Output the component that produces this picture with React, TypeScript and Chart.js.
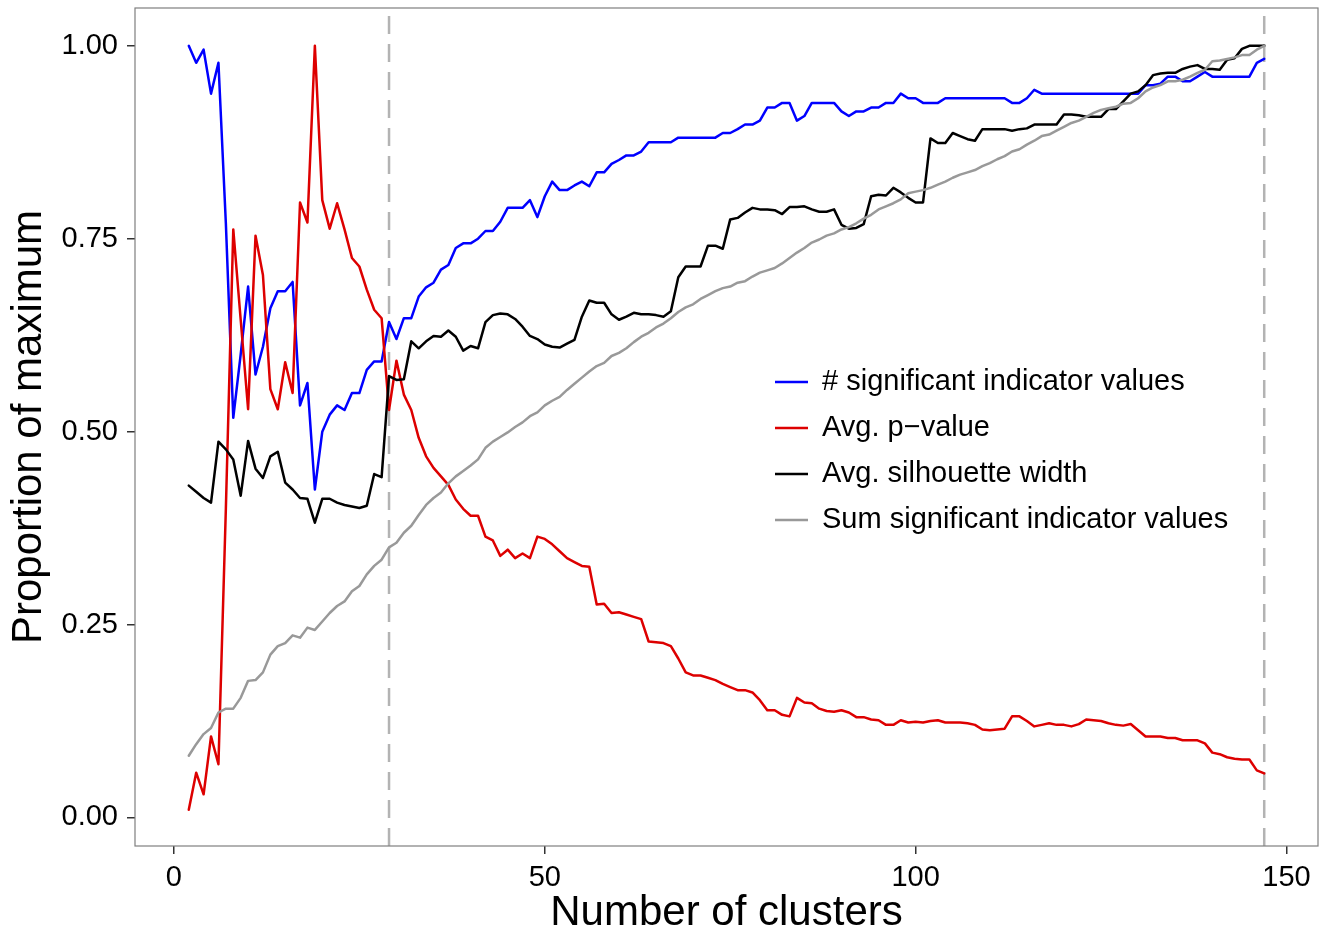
import React, { useEffect, useRef } from 'react';
import { Chart, registerables } from 'chart.js';

Chart.register(...registerables);

const FONT = '"Liberation Sans", Arial, Helvetica, sans-serif';

const clusters = [
  2, 3, 4, 5, 6, 7, 8, 9, 10, 11,
  12, 13, 14, 15, 16, 17, 18, 19, 20, 21,
  22, 23, 24, 25, 26, 27, 28, 29, 30, 31,
  32, 33, 34, 35, 36, 37, 38, 39, 40, 41,
  42, 43, 44, 45, 46, 47, 48, 49, 50, 51,
  52, 53, 54, 55, 56, 57, 58, 59, 60, 61,
  62, 63, 64, 65, 66, 67, 68, 69, 70, 71,
  72, 73, 74, 75, 76, 77, 78, 79, 80, 81,
  82, 83, 84, 85, 86, 87, 88, 89, 90, 91,
  92, 93, 94, 95, 96, 97, 98, 99, 100, 101,
  102, 103, 104, 105, 106, 107, 108, 109, 110, 111,
  112, 113, 114, 115, 116, 117, 118, 119, 120, 121,
  122, 123, 124, 125, 126, 127, 128, 129, 130, 131,
  132, 133, 134, 135, 136, 137, 138, 139, 140, 141,
  142, 143, 144, 145, 146, 147,
];

const sigIndicatorCount = [
  1.000, 0.978, 0.995, 0.938, 0.978, 0.770, 0.518, 0.600, 0.688, 0.574,
  0.610, 0.660, 0.682, 0.682, 0.694, 0.534, 0.563, 0.425, 0.500, 0.522,
  0.534, 0.528, 0.550, 0.550, 0.580, 0.591, 0.591, 0.642, 0.620, 0.647,
  0.647, 0.675, 0.687, 0.693, 0.710, 0.716, 0.738, 0.744, 0.744, 0.750,
  0.760, 0.760, 0.772, 0.790, 0.790, 0.790, 0.800, 0.778, 0.805, 0.824,
  0.813, 0.813, 0.819, 0.824, 0.818, 0.836, 0.836, 0.847, 0.852, 0.858,
  0.858, 0.863, 0.875, 0.875, 0.875, 0.875, 0.881, 0.881, 0.881, 0.881,
  0.881, 0.881, 0.887, 0.887, 0.892, 0.898, 0.898, 0.903, 0.920, 0.920,
  0.926, 0.926, 0.903, 0.909, 0.926, 0.926, 0.926, 0.926, 0.915, 0.909,
  0.915, 0.915, 0.920, 0.920, 0.926, 0.926, 0.938, 0.932, 0.932, 0.926,
  0.926, 0.926, 0.932, 0.932, 0.932, 0.932, 0.932, 0.932, 0.932, 0.932,
  0.932, 0.926, 0.926, 0.932, 0.943, 0.938, 0.938, 0.938, 0.938, 0.938,
  0.938, 0.938, 0.938, 0.938, 0.938, 0.938, 0.938, 0.938, 0.938, 0.949,
  0.949, 0.951, 0.960, 0.960, 0.954, 0.954, 0.960, 0.966, 0.960, 0.960,
  0.960, 0.960, 0.960, 0.960, 0.978, 0.983,
];

const avgPValue = [
  0.010, 0.058, 0.030, 0.105, 0.069, 0.400, 0.762, 0.645, 0.529, 0.754,
  0.703, 0.555, 0.529, 0.590, 0.550, 0.797, 0.771, 1.000, 0.800, 0.763,
  0.796, 0.762, 0.725, 0.714, 0.684, 0.658, 0.647, 0.528, 0.592, 0.548,
  0.528, 0.492, 0.468, 0.453, 0.442, 0.431, 0.412, 0.400, 0.391, 0.391,
  0.364, 0.359, 0.339, 0.347, 0.336, 0.342, 0.336, 0.364, 0.361, 0.354,
  0.345, 0.336, 0.331, 0.326, 0.325, 0.276, 0.277, 0.265, 0.266, 0.263,
  0.260, 0.257, 0.228, 0.227, 0.226, 0.222, 0.206, 0.188, 0.184, 0.184,
  0.181, 0.178, 0.173, 0.169, 0.165, 0.165, 0.162, 0.152, 0.139, 0.139,
  0.133, 0.131, 0.155, 0.149, 0.148, 0.141, 0.138, 0.137, 0.139, 0.136,
  0.130, 0.130, 0.127, 0.126, 0.120, 0.120, 0.126, 0.123, 0.124, 0.123,
  0.125, 0.126, 0.123, 0.123, 0.123, 0.122, 0.120, 0.114, 0.113, 0.114,
  0.115, 0.131, 0.131, 0.125, 0.118, 0.120, 0.122, 0.120, 0.120, 0.118,
  0.121, 0.127, 0.126, 0.125, 0.122, 0.120, 0.119, 0.121, 0.113, 0.105,
  0.105, 0.105, 0.103, 0.103, 0.100, 0.100, 0.100, 0.096, 0.084, 0.082,
  0.078, 0.076, 0.075, 0.075, 0.061, 0.057,
];

const avgSilhouette = [
  0.430, 0.422, 0.414, 0.408, 0.487, 0.477, 0.464, 0.417, 0.488, 0.452,
  0.440, 0.468, 0.474, 0.434, 0.425, 0.414, 0.413, 0.382, 0.413, 0.413,
  0.408, 0.405, 0.403, 0.401, 0.404, 0.445, 0.441, 0.572, 0.567, 0.568,
  0.617, 0.608, 0.617, 0.624, 0.623, 0.631, 0.623, 0.605, 0.611, 0.608,
  0.642, 0.651, 0.653, 0.652, 0.646, 0.636, 0.624, 0.620, 0.613, 0.610,
  0.609, 0.614, 0.619, 0.649, 0.670, 0.667, 0.667, 0.652, 0.645, 0.649,
  0.654, 0.652, 0.652, 0.651, 0.649, 0.656, 0.700, 0.714, 0.714, 0.714,
  0.741, 0.741, 0.737, 0.775, 0.777, 0.784, 0.790, 0.788, 0.788, 0.787,
  0.782, 0.791, 0.791, 0.792, 0.788, 0.785, 0.785, 0.788, 0.768, 0.763,
  0.764, 0.769, 0.805, 0.807, 0.806, 0.816, 0.810, 0.803, 0.797, 0.797,
  0.880, 0.874, 0.874, 0.887, 0.883, 0.879, 0.877, 0.892, 0.892, 0.892,
  0.892, 0.890, 0.892, 0.893, 0.898, 0.898, 0.898, 0.898, 0.911, 0.911,
  0.910, 0.908, 0.908, 0.908, 0.918, 0.918, 0.928, 0.938, 0.941, 0.949,
  0.962, 0.964, 0.965, 0.965, 0.970, 0.973, 0.975, 0.970, 0.970, 0.969,
  0.982, 0.984, 0.996, 1.000, 1.000, 1.000,
];

const sumSigIndicator = [
  0.080, 0.095, 0.108, 0.116, 0.136, 0.141, 0.141, 0.155, 0.177, 0.178,
  0.188, 0.211, 0.222, 0.226, 0.236, 0.233, 0.246, 0.243, 0.254, 0.265,
  0.274, 0.280, 0.293, 0.300, 0.315, 0.326, 0.334, 0.350, 0.356, 0.369,
  0.378, 0.392, 0.405, 0.414, 0.421, 0.433, 0.442, 0.449, 0.456, 0.464,
  0.479, 0.487, 0.493, 0.499, 0.506, 0.512, 0.520, 0.525, 0.534, 0.540,
  0.545, 0.554, 0.562, 0.570, 0.578, 0.585, 0.589, 0.598, 0.602, 0.608,
  0.616, 0.623, 0.628, 0.635, 0.640, 0.647, 0.655, 0.661, 0.665, 0.672,
  0.677, 0.682, 0.686, 0.688, 0.693, 0.695, 0.701, 0.706, 0.709, 0.712,
  0.718, 0.725, 0.732, 0.738, 0.745, 0.749, 0.754, 0.757, 0.762, 0.765,
  0.770, 0.776, 0.781, 0.788, 0.792, 0.796, 0.801, 0.809, 0.811, 0.813,
  0.816, 0.820, 0.824, 0.829, 0.833, 0.836, 0.839, 0.844, 0.848, 0.853,
  0.857, 0.863, 0.866, 0.872, 0.877, 0.883, 0.885, 0.890, 0.895, 0.900,
  0.903, 0.908, 0.913, 0.917, 0.919, 0.921, 0.925, 0.926, 0.932, 0.941,
  0.946, 0.949, 0.954, 0.954, 0.956, 0.960, 0.965, 0.969, 0.980, 0.981,
  0.983, 0.985, 0.988, 0.988, 0.995, 1.000,
];

const cutoffClusters = [29, 147];

const seriesLabels = [
  '# significant indicator values',
  'Avg. p\u2212value',
  'Avg. silhouette width',
  'Sum significant indicator values',
];
const seriesColors = ['#0000ff', '#dd0000', '#000000', '#999999'];

const xTickValues = [0, 50, 100, 150];
const yTickValues = [0, 0.25, 0.5, 0.75, 1];
const yTickLabels = ['0.00', '0.25', '0.50', '0.75', '1.00'];

const X_MIN = -5.25;
const X_MAX = 154.25;
const Y_MIN = -0.037;
const Y_MAX = 1.049;

const panelBorderPlugin = {
  id: 'panelBorder',
  afterDraw(chart: any) {
    const { ctx, chartArea } = chart;
    ctx.save();
    ctx.strokeStyle = '#7f7f7f';
    ctx.lineWidth = 1.2;
    ctx.strokeRect(chartArea.left, chartArea.top, chartArea.right - chartArea.left, chartArea.bottom - chartArea.top);
    ctx.restore();
  },
};

const insideLegendPlugin = {
  id: 'insideLegend',
  afterDraw(chart: any) {
    const { ctx } = chart;
    const items = chart.data.datasets.filter((d: any) => !d.isCutoff);
    ctx.save();
    ctx.font = `29px ${FONT}`;
    ctx.textBaseline = 'middle';
    ctx.textAlign = 'left';
    items.forEach((ds: any, i: number) => {
      const y = 382 + i * 46;
      ctx.strokeStyle = ds.borderColor;
      ctx.lineWidth = 2.5;
      ctx.beginPath();
      ctx.moveTo(775, y);
      ctx.lineTo(808, y);
      ctx.stroke();
      ctx.fillStyle = '#000';
      ctx.fillText(ds.label, 822, y);
    });
    ctx.restore();
  },
};

export default function App() {
  const canvasRef = useRef<HTMLCanvasElement | null>(null);

  useEffect(() => {
    if (!canvasRef.current) return;
    const seriesData = [sigIndicatorCount, avgPValue, avgSilhouette, sumSigIndicator];
    const lineSets = seriesData.map((vals, s) => ({
      label: seriesLabels[s],
      data: clusters.map((c, i) => ({ x: c, y: vals[i] })),
      borderColor: seriesColors[s],
      backgroundColor: seriesColors[s],
      borderWidth: 2.5,
      pointRadius: 0,
      tension: 0,
      borderJoinStyle: 'round',
      borderCapStyle: 'round',
      fill: false,
      order: 4 - s,
    }));
    const cutoffSets = cutoffClusters.map((c) => ({
      label: 'cutoff ' + c,
      isCutoff: true,
      data: [
        { x: c, y: Y_MIN },
        { x: c, y: Y_MAX },
      ],
      borderColor: '#b3b3b3',
      borderWidth: 2.5,
      borderDash: [18, 10],
      pointRadius: 0,
      fill: false,
      order: 10,
    }));

    const chart = new Chart(canvasRef.current, {
      type: 'line',
      data: { datasets: [...lineSets, ...cutoffSets] as any },
      options: {
        animation: false,
        responsive: false,
        devicePixelRatio: 1,
        layout: { padding: { top: 8, right: 14, left: 0, bottom: 0 } },
        plugins: {
          legend: { display: false },
          tooltip: { enabled: false },
        },
        scales: {
          x: {
            type: 'linear',
            min: X_MIN,
            max: X_MAX,
            afterBuildTicks: (scale: any) => {
              scale.ticks = xTickValues.map((v) => ({ value: v }));
            },
            afterFit: (scale: any) => {
              scale.height = 88;
              scale.paddingLeft = 0;
              scale.paddingRight = 0;
            },
            ticks: {
              autoSkip: false,
              maxRotation: 0,
              padding: 7,
              color: '#000',
              font: { family: FONT, size: 29 },
              callback: (v: any) => String(v),
            },
            grid: {
              drawOnChartArea: false,
              drawTicks: true,
              tickLength: 8,
              color: '#333333',
              lineWidth: 1.5,
            },
            border: { display: false },
            title: {
              display: true,
              text: 'Number of clusters',
              color: '#000',
              font: { family: FONT, size: 42, lineHeight: 1 },
              padding: { top: 0, bottom: 0 },
            },
          },
          y: {
            type: 'linear',
            min: Y_MIN,
            max: Y_MAX,
            afterBuildTicks: (scale: any) => {
              scale.ticks = yTickValues.map((v) => ({ value: v }));
            },
            afterFit: (scale: any) => {
              scale.width = 135;
              scale.paddingTop = 0;
              scale.paddingBottom = 0;
            },
            ticks: {
              autoSkip: false,
              padding: 9,
              color: '#000',
              font: { family: FONT, size: 29 },
              callback: (v: any) => {
                const idx = yTickValues.indexOf(Number(v));
                return idx >= 0 ? yTickLabels[idx] : Number(v).toFixed(2);
              },
            },
            grid: {
              drawOnChartArea: false,
              drawTicks: true,
              tickLength: 8,
              color: '#333333',
              lineWidth: 1.5,
            },
            border: { display: false },
            title: {
              display: true,
              text: 'Proportion of maximum',
              color: '#000',
              font: { family: FONT, size: 42, lineHeight: 1 },
              padding: { top: 8, bottom: 0 },
            },
          },
        },
      } as any,
      plugins: [panelBorderPlugin, insideLegendPlugin],
    });

    return () => chart.destroy();
  }, []);

  return (
    <div style={{ position: 'absolute', left: 0, top: 0, width: 1332, height: 934, background: '#fff' }}>
      <canvas ref={canvasRef} width={1332} height={934} style={{ display: 'block' }} />
    </div>
  );
}
